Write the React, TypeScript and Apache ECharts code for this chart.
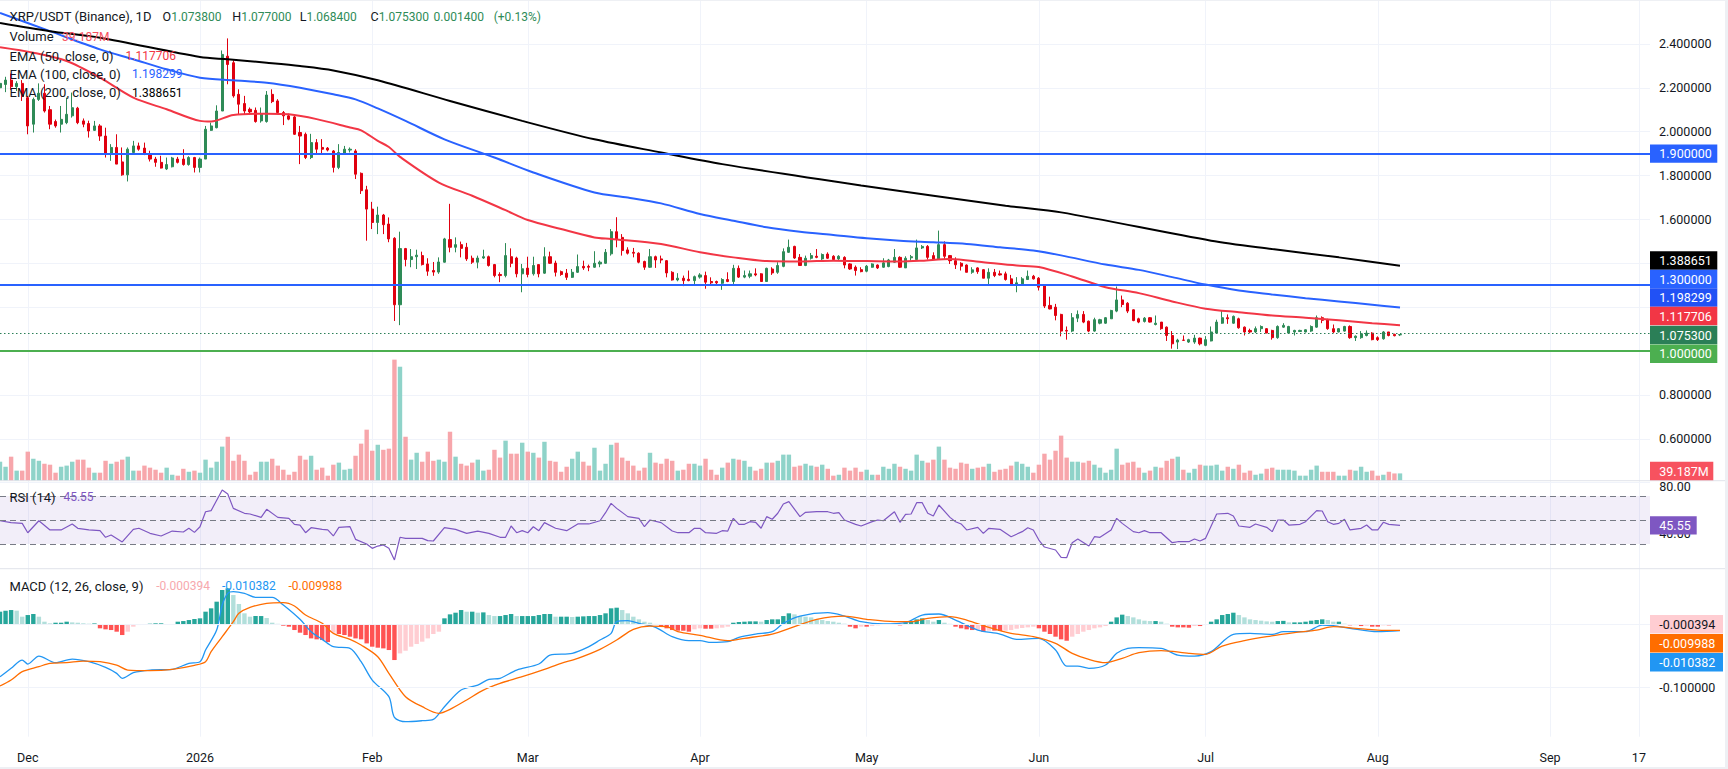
import React, { useEffect, useRef } from "react";
import * as echarts from "echarts";

// ---------- time axis ----------
const START_DATE = "2025-11-26";
const DAY_COUNT = 298; // Nov 26 2025 .. Sep 19 2026
const TICK_DATES = [
  "2025-12-01", "2026-01-01", "2026-02-01", "2026-03-01", "2026-04-01", "2026-05-01",
  "2026-06-01", "2026-07-01", "2026-08-01", "2026-09-01", "2026-09-17",
];
const MONTHS = ["Jan", "Feb", "Mar", "Apr", "May", "Jun", "Jul", "Aug", "Sep", "Oct", "Nov", "Dec"];

// ---------- daily candles (from Nov 26 2025) ----------
const opens = [
  2.200, 2.215, 2.235, 2.205, 2.220, 2.155, 2.034, 2.147, 2.175, 2.100,
  2.046, 2.034, 2.041, 2.072, 2.107, 2.049, 2.037, 2.006, 2.026, 1.980,
  1.897, 1.928, 1.862, 1.803, 1.905, 1.935, 1.925, 1.900, 1.875, 1.860,
  1.830, 1.840, 1.875, 1.875, 1.850, 1.882, 1.837, 1.875, 2.006, 2.018,
  2.094, 2.344, 2.314, 2.170, 2.128, 2.102, 2.097, 2.049, 2.046, 2.170,
  2.140, 2.087, 2.072, 2.067, 1.996, 1.988, 1.882, 1.950, 1.928, 1.925,
  1.912, 1.837, 1.900, 1.916, 1.912, 1.810, 1.735, 1.647, 1.586, 1.620,
  1.579, 1.514, 1.211, 1.467, 1.417, 1.430, 1.435, 1.397, 1.367, 1.360,
  1.405, 1.508, 1.473, 1.485, 1.473, 1.423, 1.405, 1.424, 1.430, 1.394,
  1.349, 1.344, 1.430, 1.424, 1.352, 1.378, 1.352, 1.394, 1.355, 1.430,
  1.401, 1.362, 1.355, 1.336, 1.359, 1.386, 1.386, 1.382, 1.397, 1.400,
  1.443, 1.544, 1.518, 1.461, 1.450, 1.446, 1.408, 1.382, 1.430, 1.420,
  1.412, 1.359, 1.324, 1.332, 1.327, 1.321, 1.337, 1.344, 1.317, 1.317,
  1.309, 1.326, 1.317, 1.377, 1.337, 1.341, 1.352, 1.352, 1.317, 1.374,
  1.359, 1.386, 1.450, 1.477, 1.427, 1.390, 1.423, 1.432, 1.420, 1.442,
  1.432, 1.420, 1.427, 1.397, 1.382, 1.371, 1.364, 1.382, 1.392, 1.382,
  1.385, 1.405, 1.427, 1.379, 1.425, 1.417, 1.470, 1.477, 1.435, 1.420,
  1.485, 1.435, 1.412, 1.400, 1.392, 1.359, 1.379, 1.371, 1.332, 1.359,
  1.352, 1.352, 1.329, 1.300, 1.306, 1.326, 1.341, 1.332, 1.299, 1.208,
  1.200, 1.167, 1.094, 1.091, 1.150, 1.167, 1.136, 1.091, 1.127, 1.127,
  1.147, 1.182, 1.233, 1.218, 1.188, 1.147, 1.135, 1.152, 1.121, 1.132,
  1.109, 1.071, 1.041, 1.050, 1.041, 1.041, 1.059, 1.026, 1.046, 1.082,
  1.127, 1.152, 1.127, 1.147, 1.109, 1.094, 1.087, 1.102, 1.102, 1.094,
  1.061, 1.109, 1.082, 1.087, 1.089, 1.087, 1.091, 1.109, 1.152, 1.143,
  1.102, 1.087, 1.091, 1.112, 1.061, 1.061, 1.071, 1.082, 1.061, 1.056,
  1.087, 1.076, 1.0738,
];
const highs = [
  2.240, 2.250, 2.265, 2.230, 2.235, 2.163, 2.155, 2.220, 2.216, 2.117,
  2.055, 2.117, 2.155, 2.178, 2.113, 2.060, 2.050, 2.049, 2.034, 2.018,
  1.943, 1.988, 1.928, 1.928, 1.958, 1.950, 1.950, 1.913, 1.885, 1.890,
  1.882, 1.885, 1.885, 1.920, 1.888, 1.885, 1.882, 2.026, 2.041, 2.120,
  2.370, 2.425, 2.325, 2.193, 2.163, 2.110, 2.110, 2.110, 2.185, 2.193,
  2.148, 2.094, 2.082, 2.072, 2.026, 1.996, 1.990, 1.966, 1.966, 1.930,
  1.916, 1.943, 1.935, 1.928, 1.920, 1.814, 1.753, 1.680, 1.658, 1.625,
  1.609, 1.519, 1.544, 1.470, 1.465, 1.462, 1.453, 1.423, 1.406, 1.427,
  1.516, 1.671, 1.518, 1.499, 1.493, 1.435, 1.435, 1.462, 1.435, 1.397,
  1.359, 1.492, 1.468, 1.430, 1.397, 1.430, 1.430, 1.394, 1.473, 1.453,
  1.412, 1.367, 1.374, 1.374, 1.440, 1.412, 1.394, 1.455, 1.412, 1.465,
  1.556, 1.610, 1.533, 1.473, 1.470, 1.450, 1.412, 1.465, 1.435, 1.435,
  1.415, 1.364, 1.355, 1.344, 1.367, 1.344, 1.355, 1.362, 1.336, 1.321,
  1.332, 1.359, 1.393, 1.390, 1.367, 1.367, 1.377, 1.355, 1.380, 1.382,
  1.405, 1.468, 1.508, 1.480, 1.442, 1.435, 1.447, 1.465, 1.445, 1.450,
  1.437, 1.437, 1.432, 1.400, 1.390, 1.382, 1.392, 1.400, 1.395, 1.423,
  1.420, 1.465, 1.432, 1.432, 1.438, 1.508, 1.483, 1.483, 1.450, 1.549,
  1.500, 1.438, 1.427, 1.405, 1.395, 1.382, 1.382, 1.374, 1.377, 1.374,
  1.367, 1.362, 1.347, 1.337, 1.337, 1.367, 1.347, 1.337, 1.299, 1.248,
  1.215, 1.170, 1.112, 1.173, 1.185, 1.182, 1.139, 1.152, 1.147, 1.155,
  1.188, 1.294, 1.253, 1.223, 1.190, 1.152, 1.155, 1.155, 1.162, 1.132,
  1.112, 1.091, 1.056, 1.071, 1.056, 1.074, 1.061, 1.068, 1.112, 1.143,
  1.185, 1.167, 1.162, 1.152, 1.112, 1.102, 1.112, 1.117, 1.105, 1.097,
  1.117, 1.127, 1.115, 1.097, 1.097, 1.099, 1.117, 1.162, 1.158, 1.147,
  1.121, 1.105, 1.115, 1.117, 1.071, 1.091, 1.094, 1.086, 1.067, 1.091,
  1.087, 1.079, 1.077,
];
const lows = [
  2.175, 2.180, 2.190, 2.185, 2.140, 1.988, 1.996, 2.140, 2.087, 2.011,
  2.018, 1.996, 2.034, 2.064, 2.034, 2.020, 1.973, 2.003, 1.958, 1.882,
  1.867, 1.852, 1.799, 1.773, 1.897, 1.913, 1.893, 1.864, 1.840, 1.832,
  1.825, 1.837, 1.855, 1.845, 1.845, 1.814, 1.814, 1.875, 2.003, 2.015,
  2.094, 2.216, 2.155, 2.079, 2.079, 2.085, 2.041, 2.041, 2.041, 2.130,
  2.079, 2.030, 2.052, 1.985, 1.852, 1.875, 1.875, 1.897, 1.897, 1.910,
  1.814, 1.829, 1.894, 1.905, 1.784, 1.716, 1.503, 1.556, 1.533, 1.533,
  1.496, 1.137, 1.118, 1.386, 1.382, 1.374, 1.390, 1.343, 1.343, 1.352,
  1.403, 1.450, 1.450, 1.427, 1.411, 1.397, 1.377, 1.420, 1.385, 1.336,
  1.314, 1.336, 1.382, 1.336, 1.268, 1.336, 1.344, 1.336, 1.352, 1.397,
  1.340, 1.343, 1.324, 1.333, 1.356, 1.370, 1.364, 1.379, 1.382, 1.397,
  1.435, 1.473, 1.435, 1.440, 1.427, 1.400, 1.370, 1.379, 1.379, 1.400,
  1.336, 1.321, 1.318, 1.296, 1.318, 1.303, 1.330, 1.284, 1.300, 1.302,
  1.279, 1.314, 1.300, 1.333, 1.332, 1.332, 1.341, 1.317, 1.317, 1.347,
  1.352, 1.382, 1.447, 1.420, 1.390, 1.387, 1.417, 1.423, 1.415, 1.420,
  1.415, 1.415, 1.377, 1.370, 1.344, 1.359, 1.359, 1.380, 1.374, 1.379,
  1.382, 1.402, 1.379, 1.379, 1.412, 1.412, 1.465, 1.417, 1.417, 1.420,
  1.420, 1.397, 1.374, 1.367, 1.359, 1.352, 1.352, 1.332, 1.302, 1.337,
  1.344, 1.321, 1.299, 1.268, 1.303, 1.326, 1.326, 1.276, 1.196, 1.190,
  1.140, 1.067, 1.052, 1.086, 1.132, 1.127, 1.086, 1.088, 1.122, 1.124,
  1.146, 1.177, 1.200, 1.173, 1.136, 1.127, 1.130, 1.130, 1.117, 1.097,
  1.046, 1.011, 1.009, 1.046, 1.037, 1.033, 1.026, 1.022, 1.044, 1.079,
  1.124, 1.124, 1.124, 1.102, 1.071, 1.082, 1.082, 1.087, 1.082, 1.052,
  1.056, 1.106, 1.080, 1.071, 1.087, 1.085, 1.087, 1.106, 1.127, 1.097,
  1.082, 1.085, 1.089, 1.056, 1.046, 1.056, 1.067, 1.049, 1.046, 1.052,
  1.067, 1.067, 1.0684,
];
const closes = [
  2.220, 2.235, 2.205, 2.220, 2.160, 2.026, 2.147, 2.175, 2.094, 2.034,
  2.026, 2.056, 2.079, 2.109, 2.041, 2.034, 2.003, 2.026, 1.980, 1.897,
  1.928, 1.852, 1.803, 1.920, 1.935, 1.920, 1.900, 1.875, 1.860, 1.834,
  1.850, 1.880, 1.860, 1.850, 1.882, 1.837, 1.875, 2.011, 2.026, 2.094,
  2.352, 2.306, 2.163, 2.125, 2.094, 2.090, 2.046, 2.079, 2.167, 2.137,
  2.087, 2.072, 2.057, 1.988, 1.980, 1.882, 1.950, 1.920, 1.920, 1.916,
  1.837, 1.905, 1.920, 1.920, 1.806, 1.731, 1.647, 1.586, 1.620, 1.576,
  1.511, 1.211, 1.467, 1.417, 1.430, 1.437, 1.394, 1.364, 1.360, 1.406,
  1.511, 1.473, 1.485, 1.468, 1.420, 1.405, 1.424, 1.430, 1.390, 1.344,
  1.344, 1.435, 1.400, 1.352, 1.375, 1.349, 1.390, 1.352, 1.430, 1.400,
  1.359, 1.349, 1.336, 1.359, 1.385, 1.379, 1.382, 1.400, 1.405, 1.450,
  1.544, 1.511, 1.458, 1.446, 1.446, 1.405, 1.382, 1.430, 1.415, 1.415,
  1.356, 1.324, 1.332, 1.321, 1.321, 1.339, 1.347, 1.314, 1.311, 1.311,
  1.326, 1.317, 1.377, 1.337, 1.344, 1.352, 1.347, 1.317, 1.377, 1.356,
  1.390, 1.453, 1.473, 1.424, 1.390, 1.423, 1.435, 1.427, 1.440, 1.423,
  1.417, 1.432, 1.392, 1.374, 1.367, 1.362, 1.387, 1.397, 1.379, 1.402,
  1.415, 1.427, 1.382, 1.423, 1.430, 1.470, 1.477, 1.427, 1.420, 1.485,
  1.432, 1.412, 1.393, 1.387, 1.359, 1.370, 1.362, 1.332, 1.359, 1.344,
  1.347, 1.326, 1.302, 1.311, 1.329, 1.341, 1.329, 1.291, 1.205, 1.192,
  1.162, 1.091, 1.091, 1.152, 1.167, 1.132, 1.091, 1.143, 1.143, 1.152,
  1.185, 1.233, 1.212, 1.182, 1.139, 1.132, 1.150, 1.132, 1.127, 1.102,
  1.071, 1.033, 1.050, 1.049, 1.052, 1.059, 1.033, 1.052, 1.087, 1.132,
  1.152, 1.147, 1.158, 1.106, 1.087, 1.087, 1.102, 1.112, 1.082, 1.061,
  1.112, 1.117, 1.112, 1.094, 1.094, 1.097, 1.112, 1.152, 1.140, 1.102,
  1.087, 1.102, 1.112, 1.061, 1.068, 1.079, 1.082, 1.052, 1.052, 1.087,
  1.071, 1.070, 1.0753,
];
// volume, millions
const volumes = [
  102, 75, 129, 54, 54, 156, 118, 107, 91, 86,
  43, 75, 81, 102, 113, 113, 70, 43, 43, 107,
  91, 102, 113, 129, 54, 54, 81, 70, 59, 43,
  70, 32, 27, 64, 48, 54, 43, 113, 70, 102,
  183, 236, 107, 140, 107, 32, 48, 102, 102, 118,
  81, 59, 32, 48, 134, 113, 134, 59, 70, 27,
  86, 97, 59, 64, 134, 199, 274, 161, 193, 166,
  172, 650, 612, 236, 113, 150, 102, 156, 107, 113,
  102, 263, 129, 91, 81, 97, 113, 54, 59, 166,
  124, 215, 145, 145, 204, 156, 150, 124, 209, 107,
  102, 48, 75, 118, 156, 102, 81, 177, 54, 91,
  193, 204, 124, 107, 81, 54, 70, 150, 97, 91,
  118, 107, 54, 59, 91, 91, 81, 118, 59, 32,
  70, 97, 118, 113, 107, 75, 54, 64, 97, 97,
  107, 140, 140, 75, 81, 91, 81, 75, 86, 64,
  27, 32, 70, 54, 70, 48, 59, 32, 32, 75,
  64, 91, 75, 64, 54, 140, 107, 97, 113, 183,
  113, 70, 64, 97, 91, 64, 70, 75, 91, 48,
  59, 64, 81, 102, 91, 75, 43, 86, 145, 113,
  161, 242, 124, 102, 102, 97, 107, 86, 70, 43,
  59, 172, 86, 97, 102, 70, 43, 54, 75, 70,
  107, 118, 129, 59, 43, 64, 86, 81, 81, 86,
  54, 75, 64, 86, 43, 54, 32, 38, 64, 70,
  59, 59, 59, 54, 27, 27, 59, 81, 48, 48,
  48, 27, 27, 59, 54, 75, 48, 54, 27, 32,
  48, 39, 39.187,
];
// MACD histogram, daily
const macdHist = [
  0.0195, 0.0211, 0.0221, 0.0211, 0.0116, 0.0142, 0.0158, 0.0116, 0.0037, 0.0011,
  0.0021, 0.0021, 0.0037, 0.0026, 0.0021, 0.0011, 0.0005, 0.0010, -0.0068, -0.0084,
  -0.0095, -0.0121, -0.0174, -0.0121, -0.0042, -0.0016, -0.0005, 0.0005, 0.0011, 0.0011,
  -0.0005, -0.0011, 0.0037, 0.0047, 0.0063, 0.0079, 0.0090, 0.0195, 0.0248, 0.0353,
  0.0538, 0.0564, 0.0458, 0.0316, 0.0169, 0.0116, 0.0126, 0.0126, 0.0095, 0.0021,
  0.0003, -0.0026, -0.0042, -0.0095, -0.0137, -0.0174, -0.0227, -0.0242, -0.0253, -0.0285,
  -0.0137, -0.0158, -0.0174, -0.0200, -0.0227, -0.0242, -0.0306, -0.0358, -0.0374, -0.0385,
  -0.0411, -0.0569, -0.0464, -0.0422, -0.0358, -0.0316, -0.0279, -0.0227, -0.0158, -0.0121,
  0.0090, 0.0153, 0.0179, 0.0221, 0.0195, 0.0195, 0.0179, 0.0184, 0.0142, 0.0126,
  0.0126, 0.0142, 0.0158, 0.0126, 0.0126, 0.0126, 0.0126, 0.0142, 0.0158, 0.0158,
  0.0116, 0.0116, 0.0116, 0.0111, 0.0116, 0.0121, 0.0126, 0.0126, 0.0142, 0.0169,
  0.0248, 0.0258, 0.0221, 0.0169, 0.0116, 0.0074, 0.0037, 0.0021, 0.0002, -0.0042,
  -0.0068, -0.0095, -0.0105, -0.0106, -0.0121, -0.0084, -0.0068, -0.0074, -0.0074, -0.0068,
  -0.0058, -0.0042, 0.0021, 0.0032, 0.0037, 0.0042, 0.0042, 0.0037, 0.0063, 0.0074,
  0.0074, 0.0126, 0.0169, 0.0153, 0.0126, 0.0116, 0.0105, 0.0074, 0.0063, 0.0047,
  0.0037, 0.0021, 0.0005, -0.0042, -0.0068, -0.0042, -0.0042, -0.0032, -0.0021, -0.0011,
  -0.0005, -0.0003, -0.0021, 0.0021, 0.0032, 0.0074, 0.0090, 0.0063, 0.0037, 0.0063,
  0.0021, 0.0003, -0.0042, -0.0068, -0.0084, -0.0095, -0.0090, -0.0121, -0.0105, -0.0105,
  -0.0110, -0.0105, -0.0095, -0.0074, -0.0063, -0.0053, -0.0042, -0.0068, -0.0121, -0.0158,
  -0.0200, -0.0242, -0.0264, -0.0200, -0.0158, -0.0121, -0.0095, -0.0068, -0.0053, -0.0032,
  0.0037, 0.0105, 0.0148, 0.0126, 0.0105, 0.0074, 0.0053, 0.0047, 0.0047, 0.0037,
  0.0005, -0.0042, -0.0053, -0.0053, -0.0058, -0.0032, -0.0032, -0.0016, 0.0037, 0.0074,
  0.0142, 0.0158, 0.0179, 0.0142, 0.0105, 0.0074, 0.0063, 0.0053, 0.0042, 0.0037,
  0.0047, 0.0050, 0.0026, 0.0026, 0.0026, 0.0037, 0.0053, 0.0063, 0.0074, 0.0063,
  0.0037, 0.0037, 0.0005, -0.0021, -0.0019, -0.0032, -0.0026, -0.0042, -0.0042, -0.0021,
  -0.0021, -0.0016, -0.000394,
];

// ---------- indicator lines: [day index, value] ----------
const ema50Pts = [
  [0, 2.385], [6, 2.36], [12, 2.322], [18, 2.246], [24, 2.155], [30, 2.102], [36, 2.049], [38, 2.046],
  [42, 2.076], [48, 2.082], [52, 2.079], [57, 2.057], [63, 2.019], [65, 2.006], [68, 1.958], [70, 1.93],
  [72, 1.885], [79, 1.768], [85, 1.708], [91, 1.642], [95, 1.597], [101, 1.556], [107, 1.518], [110, 1.511],
  [119, 1.488], [126, 1.45], [132, 1.427], [138, 1.41], [144, 1.408], [150, 1.412], [156, 1.41], [162, 1.408],
  [166, 1.412], [171, 1.42], [177, 1.405], [183, 1.39], [187, 1.383], [193, 1.34], [199, 1.291], [205, 1.264],
  [211, 1.226], [217, 1.193], [223, 1.177], [229, 1.162], [235, 1.152], [241, 1.14], [247, 1.127], [252, 1.117706],
];
const ema100Pts = [
  [0, 2.541], [9, 2.458], [18, 2.375], [24, 2.33], [30, 2.284], [36, 2.246], [42, 2.234], [48, 2.223],
  [54, 2.2], [60, 2.17], [64, 2.147], [68, 2.106], [73, 2.049], [80, 1.965], [89, 1.882], [96, 1.814],
  [107, 1.723], [113, 1.7], [119, 1.673], [126, 1.625], [132, 1.594], [138, 1.564], [144, 1.544], [150, 1.529],
  [156, 1.514], [162, 1.503], [168, 1.496], [174, 1.488], [180, 1.473], [186, 1.458], [191, 1.436], [199, 1.394],
  [205, 1.37], [211, 1.337], [217, 1.303], [223, 1.276], [229, 1.258], [235, 1.241], [241, 1.226], [247, 1.211],
  [252, 1.198299],
];
const ema200Pts = [
  [0, 2.495], [9, 2.458], [18, 2.428], [36, 2.34], [41, 2.33], [48, 2.314], [54, 2.299], [60, 2.279],
  [68, 2.234], [81, 2.14], [94, 2.049], [107, 1.965], [119, 1.905], [130, 1.852], [155, 1.755], [181, 1.662],
  [191, 1.632], [218, 1.503], [229, 1.465], [241, 1.427], [252, 1.388651],
];
const rsiPts = [
  [0, 49.4], [2, 47.8], [4, 47.2], [5, 39.4], [7, 49.4], [9, 41.7], [11, 41.7], [13, 46.7], [14, 43.1], [16, 41.7],
  [18, 41.1], [19, 35.6], [20, 37.5], [22, 31.7], [24, 42.2], [25, 43.1], [27, 38.9], [29, 36.7], [31, 40.8], [33, 40],
  [34, 43.1], [35, 39.7], [36, 44.4], [37, 56.9], [38, 57.8], [40, 75], [41, 71.7], [42, 59.7], [44, 55.6], [45, 55],
  [47, 52.2], [48, 58.9], [50, 52.2], [52, 51.4], [53, 46.4], [54, 45.8], [55, 39.4], [56, 43.6], [58, 42.2], [59, 41.7],
  [60, 36.7], [61, 43.9], [63, 44.4], [64, 33.9], [66, 30], [67, 26.4], [68, 28.3], [69, 29.2], [70, 26.4], [71, 16.7],
  [72, 35.6], [73, 34.7], [76, 34.7], [77, 32.8], [78, 32.5], [80, 43.6], [82, 42.2], [84, 38.9], [86, 40.8], [88, 38.9],
  [90, 35.6], [91, 35.6], [92, 45], [93, 39.4], [94, 41.1], [95, 39.4], [96, 44.4], [97, 41.1], [98, 47.8], [100, 43.1],
  [102, 41.1], [104, 46.7], [106, 46.7], [108, 49.4], [109, 56.1], [110, 63.9], [111, 59.7], [113, 52.8], [115, 51.4], [116, 44.4],
  [117, 50], [119, 47.8], [121, 40.8], [122, 39.4], [124, 39.4], [125, 43.1], [126, 43.1], [127, 39.4], [129, 38.9], [130, 41.1],
  [131, 40.8], [132, 51.4], [133, 46.4], [134, 46.4], [135, 48.6], [136, 48.1], [137, 43.1], [138, 52.8], [139, 50.6], [140, 55.6],
  [141, 63.3], [142, 65.3], [144, 52.8], [145, 56.4], [147, 56.9], [149, 56.9], [150, 55.6], [151, 56.1], [152, 50], [154, 46.4],
  [155, 45], [157, 48.6], [158, 50], [159, 49.4], [161, 56.9], [162, 48.1], [163, 54.7], [164, 55], [165, 64.4], [166, 64.4],
  [167, 55.6], [168, 53.3], [169, 62.5], [171, 52.2], [172, 48.6], [173, 46.7], [174, 41.7], [176, 43.9], [177, 38.9], [178, 43.1],
  [180, 42.2], [182, 36.1], [184, 40.3], [185, 43.6], [186, 41.7], [187, 33.3], [188, 27.5], [190, 25], [191, 18.9], [192, 18.6],
  [193, 31.1], [194, 34.2], [196, 28.3], [197, 36.1], [198, 35.6], [200, 41.7], [201, 51.4], [202, 47.2], [204, 40.3], [205, 39.4],
  [206, 41.1], [207, 39.4], [209, 39.4], [211, 31.1], [212, 31.9], [214, 31.9], [215, 34.2], [216, 32.5], [217, 34.7], [219, 55],
  [221, 55.6], [222, 53.3], [223, 45], [225, 43.9], [226, 46.7], [228, 43.9], [229, 40.3], [230, 50], [231, 50], [232, 45.8],
  [234, 46.4], [235, 48.6], [237, 57.8], [238, 57.5], [239, 48.6], [240, 46.4], [241, 47.2], [242, 50.6], [243, 41.7], [245, 43.1],
  [246, 45.8], [247, 41.7], [248, 41.7], [249, 48.1], [250, 46.4], [252, 45.55],
];
const macdPts = [
  [0, -0.0832], [2, -0.07], [4, -0.0569], [5, -0.0632], [7, -0.0506], [10, -0.0611], [13, -0.0553], [16, -0.0595],
  [19, -0.0685], [21, -0.0779], [22, -0.0858], [24, -0.0769], [27, -0.0727], [31, -0.0716], [34, -0.0621], [36, -0.0595],
  [37, -0.0411], [39, -0.0095], [40, 0.03], [41, 0.0484], [42, 0.0511], [44, 0.0484], [46, 0.0421], [49, 0.0421],
  [51, 0.03], [54, 0.0074], [56, -0.0121], [58, -0.0242], [60, -0.0358], [63, -0.0384], [65, -0.0595], [67, -0.0885],
  [70, -0.1148], [71, -0.1474], [73, -0.1543], [76, -0.1527], [78, -0.1506], [80, -0.1306], [83, -0.1043], [86, -0.0964],
  [88, -0.0874], [90, -0.0858], [93, -0.0727], [97, -0.0632], [99, -0.049], [103, -0.0463], [106, -0.0358], [108, -0.0253],
  [110, -0.0147], [111, 0.0037], [113, 0.0053], [115, 0.0011], [118, -0.0053], [121, -0.02], [124, -0.0263], [126, -0.0263],
  [128, -0.029], [131, -0.0279], [133, -0.0211], [136, -0.0158], [139, -0.0121], [141, 0.0011], [144, 0.0126], [149, 0.0179],
  [152, 0.0126], [155, 0.0037], [159, 0], [163, 0.0021], [166, 0.0142], [169, 0.0158], [172, 0.0063], [176, -0.0095],
  [180, -0.0158], [183, -0.0242], [187, -0.0226], [190, -0.0411], [192, -0.0664], [194, -0.0664], [196, -0.07], [199, -0.0648],
  [201, -0.0463], [203, -0.0384], [205, -0.0374], [209, -0.0384], [212, -0.049], [215, -0.0506], [218, -0.0437], [222, -0.0163],
  [225, -0.0147], [229, -0.0163], [231, -0.0121], [235, -0.0121], [238, -0.0016], [240, -0.0026], [243, -0.0068], [248, -0.0121],
  [252, -0.010382],
];
const signalPts = [
  [0, -0.0979], [2, -0.0885], [4, -0.0753], [7, -0.0674], [9, -0.0621], [12, -0.0611], [15, -0.0585], [18, -0.0595],
  [21, -0.0648], [23, -0.0727], [27, -0.0737], [31, -0.0716], [35, -0.0653], [37, -0.0595], [38, -0.0437], [40, -0.02],
  [42, 0.0037], [43, 0.0169], [45, 0.0263], [48, 0.0326], [51, 0.0337], [53, 0.0284], [55, 0.0142], [58, 0.0011],
  [60, -0.0147], [63, -0.0242], [65, -0.0332], [68, -0.0516], [70, -0.0779], [73, -0.1148], [76, -0.1306], [79, -0.1411],
  [81, -0.1348], [84, -0.12], [87, -0.1043], [90, -0.0937], [94, -0.0832], [98, -0.0716], [101, -0.0621], [104, -0.0542],
  [108, -0.04], [111, -0.0253], [114, -0.0084], [117, -0.0032], [120, -0.0042], [122, -0.0121], [126, -0.0179], [131, -0.0263],
  [134, -0.0226], [139, -0.0158], [143, -0.0042], [147, 0.0074], [152, 0.0126], [156, 0.0074], [161, 0.0037], [164, 0.0037],
  [167, 0.009], [171, 0.0116], [174, 0.0063], [178, -0.0053], [182, -0.0147], [186, -0.02], [190, -0.0305], [193, -0.0463],
  [196, -0.0558], [199, -0.0611], [202, -0.0542], [205, -0.0453], [209, -0.0421], [214, -0.0463], [217, -0.0479], [220, -0.0348],
  [224, -0.0263], [228, -0.02], [233, -0.0137], [237, -0.0095], [240, -0.0042], [244, -0.0068], [248, -0.0095], [252, -0.009988],
];

// ---------- levels & last values ----------
const hLevels = [1.9, 1.3, 1.0];
const lastOHLC = [1.0738, 1.077, 1.0684, 1.0753];
const lastChange = 0.0014;
const lastChangePct = 0.13;
const lastEma = [1.117706, 1.198299, 1.388651];
const lastRsi = 45.55;
const lastMacd = [-0.000394, -0.010382, -0.009988]; // histogram, macd, signal

// ---------- styles ----------
const FONT = "Roboto, 'Liberation Sans', Arial, sans-serif";
const UP = "#2E8B57";
const DOWN = "#E0000F";
const VOL_UP = "#8FD3C9";
const VOL_DOWN = "#F7A6AB";
const EMA_COLORS = ["#F23645", "#2962FF", "#000000"];
const TEXT = "#131722";
const GRID_LINE = "#F0F3FA";
const PLOT_RIGHT = 78;

export default function App() {
  const ref = useRef<HTMLDivElement>(null);

  useEffect(() => {
    const el = ref.current;
    if (!el) return;
    const chart = echarts.init(el, null, { renderer: "svg" });

    const t0 = Date.parse(START_DATE + "T00:00:00Z");
    const dates: string[] = [];
    for (let i = 0; i < DAY_COUNT; i++) dates.push(new Date(t0 + i * 86400000).toISOString().slice(0, 10));
    const tickSet = new Set(TICK_DATES);
    const tickLabel = (d: string) => {
      const [y, m, dd] = d.split("-").map(Number);
      if (dd === 1) return m === 1 ? String(y) : MONTHS[m - 1];
      return String(dd);
    };

    const xAxis = [0, 1, 2, 3].map((g) => ({
      type: "category",
      gridIndex: g,
      data: dates,
      boundaryGap: false,
      axisLine: { show: false },
      axisTick: { show: false },
      axisLabel:
        g === 3
          ? {
              show: true,
              interval: (_i: number, v: string) => tickSet.has(v),
              formatter: (v: string) => tickLabel(v),
              color: TEXT,
              fontSize: 12.5,
              fontFamily: FONT,
              margin: 14,
            }
          : { show: false },
      splitLine: {
        show: g !== 1,
        interval: (_i: number, v: string) => tickSet.has(v),
        lineStyle: { color: GRID_LINE, width: 1 },
      },
    }));

    const grids = [
      { left: 0, right: PLOT_RIGHT, top: -1.3, height: 484 },
      { left: 0, right: PLOT_RIGHT, top: 0, height: 480.7 },
      { left: 0, right: PLOT_RIGHT, top: 480.7, height: 88 },
      { left: 0, right: PLOT_RIGHT, top: 568.7, height: 168 },
    ];

    // scale labels sitting under the stacked value boxes are hidden, as on the reference
    const coveredByBoxes = (v: number) => v > 0.95 && v < 1.45;

    const yAxis = [
      {
        type: "value",
        gridIndex: 0,
        position: "right",
        min: 0.4,
        max: 2.6,
        interval: 0.2,
        axisLine: { show: false },
        axisTick: { show: false },
        axisLabel: {
          formatter: (v: number) => (coveredByBoxes(v) ? "" : v.toFixed(6)),
          color: TEXT,
          fontSize: 12.5,
          fontFamily: FONT,
          margin: 9,
          showMinLabel: false,
          showMaxLabel: false,
        },
        splitLine: { lineStyle: { color: GRID_LINE, width: 1 } },
      },
      { type: "value", gridIndex: 1, min: 0, max: 2581, show: false },
      { type: "value", gridIndex: 2, min: 9.42, max: 82.75, show: false },
      { type: "value", gridIndex: 3, min: -0.178, max: 0.0874, show: false },
    ];

    const candleData = opens.map((o, i) => [o, closes[i], lows[i], highs[i]]);
    const volData = volumes.map((v, i) => ({
      value: v,
      itemStyle: { color: closes[i] >= opens[i] ? VOL_UP : VOL_DOWN },
    }));
    const histData = macdHist.map((h, i) => {
      const prev = i > 0 ? macdHist[i - 1] : h;
      let c: string;
      if (h >= 0) c = h >= prev ? "#26A69A" : "#B2DFDB";
      else c = h <= prev ? "#FF5252" : "#FFCDD2";
      return { value: h, itemStyle: { color: c } };
    });

    const levelColors = ["#2962FF", "#2962FF", "#4CAF50"];

    const option: any = {
      animation: false,
      backgroundColor: "#ffffff",
      textStyle: { fontFamily: FONT },
      grid: grids,
      xAxis,
      yAxis,
      series: [
        {
          type: "bar",
          name: "Volume",
          xAxisIndex: 1,
          yAxisIndex: 1,
          data: volData,
          barWidth: 4.4,
          z: 1,
          silent: true,
        },
        {
          type: "candlestick",
          name: "XRP/USDT",
          xAxisIndex: 0,
          yAxisIndex: 0,
          data: candleData,
          barWidth: 2.6,
          z: 3,
          itemStyle: { color: UP, color0: DOWN, borderColor: UP, borderColor0: DOWN, borderWidth: 1 },
          markLine: {
            silent: true,
            symbol: ["none", "none"],
            label: { show: false },
            data: [
              ...hLevels.map((v, k) => ({ yAxis: v, lineStyle: { color: levelColors[k], width: 2, type: "solid" } })),
              { yAxis: lastOHLC[3], lineStyle: { color: "#2B7F57", width: 1, type: [1.5, 2.5] } },
            ],
          },
        },
        ...[ema50Pts, ema100Pts, ema200Pts].map((pts, k) => ({
          type: "line",
          name: "EMA" + k,
          xAxisIndex: 0,
          yAxisIndex: 0,
          data: pts,
          showSymbol: false,
          smooth: 0.3,
          z: 4,
          lineStyle: { color: EMA_COLORS[k], width: 2 },
          silent: true,
        })),
        {
          type: "line",
          name: "RSI",
          xAxisIndex: 2,
          yAxisIndex: 2,
          data: rsiPts,
          showSymbol: false,
          lineStyle: { color: "#7E57C2", width: 1.2 },
          silent: true,
          markArea: {
            silent: true,
            itemStyle: { color: "rgba(126,87,194,0.1)" },
            data: [[{ yAxis: 70 }, { yAxis: 30 }]],
          },
          markLine: {
            silent: true,
            symbol: ["none", "none"],
            label: { show: false },
            lineStyle: { color: "#787B86", width: 1, type: [6, 4] },
            data: [{ yAxis: 70 }, { yAxis: 50 }, { yAxis: 30 }],
          },
        },
        {
          type: "line",
          name: "grid",
          xAxisIndex: 3,
          yAxisIndex: 3,
          data: [],
          z: 0,
          markLine: {
            silent: true,
            symbol: ["none", "none"],
            label: { show: false },
            lineStyle: { color: GRID_LINE, width: 1, type: "solid" },
            data: [{ yAxis: 0 }, { yAxis: -0.1 }],
          },
        },
        {
          type: "bar",
          name: "Histogram",
          xAxisIndex: 3,
          yAxisIndex: 3,
          data: histData,
          barWidth: 4.4,
          z: 2,
          silent: true,
        },
        {
          type: "line",
          name: "MACD",
          xAxisIndex: 3,
          yAxisIndex: 3,
          data: macdPts,
          showSymbol: false,
          smooth: 0.3,
          z: 3,
          lineStyle: { color: "#2196F3", width: 1.3 },
          silent: true,
        },
        {
          type: "line",
          name: "Signal",
          xAxisIndex: 3,
          yAxisIndex: 3,
          data: signalPts,
          showSymbol: false,
          smooth: 0.3,
          z: 3,
          lineStyle: { color: "#FF6D00", width: 1.3 },
          silent: true,
        },
      ],
    };

    chart.setOption(option);

    const py = (axis: number, v: number) => chart.convertToPixel({ yAxisIndex: axis }, v) as number;
    const AX = 1728 - PLOT_RIGHT;

    const txt = (x: number, y: number, text: string, fill: string, size = 13, z = 100) => ({
      type: "text",
      x,
      y,
      z,
      silent: true,
      style: { text, fill, fontSize: size, fontFamily: FONT, verticalAlign: "middle", align: "left" },
    });
    const box = (yc: number, w: number, text: string, bg: string, fg = "#ffffff") => [
      { type: "rect", z: 100, silent: true, shape: { x: AX, y: yc - 9.2, width: w, height: 18.4 }, style: { fill: bg } },
      txt(AX + 9.3, yc, text, fg, 12.5, 101),
    ];

    const fmt6 = (v: number) => v.toFixed(6);
    const legendUpColor = lastOHLC[3] >= lastOHLC[0] ? UP : DOWN;
    const VAL = 12; // legend value font size

    // stacked price-scale labels (TradingView pushes overlapping ones apart)
    const mainStackY = [260.5, 279, 297.5, 316, 335, 353.8];
    const macdStackY = [624.3, 643.3, 662.3];

    const graphic: any[] = [
      // frame
      { type: "rect", z: 120, silent: true, shape: { x: 1725, y: 0, width: 3, height: 769 }, style: { fill: "#EEF0F4" } },
      { type: "rect", z: 120, silent: true, shape: { x: 0, y: 767, width: 1728, height: 2 }, style: { fill: "#EEF0F4" } },
      { type: "rect", z: 120, silent: true, shape: { x: 0, y: 0, width: 1728, height: 1 }, style: { fill: "#EEF0F4" } },

      // RSI scale labels (top one is partly hidden by the pane above)
      txt(AX + 9.3, py(2, 80) + 2.5, (80).toFixed(2), TEXT, 12.5, 90),
      txt(AX + 9.3, py(2, 40) + 1, (40).toFixed(2), TEXT, 12.5, 90),
      { type: "rect", z: 95, silent: true, shape: { x: AX, y: 470, width: 75, height: 10.7 }, style: { fill: "#ffffff" } },
      // MACD scale label
      txt(AX + 9.3, py(3, -0.1), fmt6(-0.1), TEXT, 12.5, 90),

      // pane separators
      { type: "line", z: 99, silent: true, shape: { x1: 0, y1: 480.7, x2: 1725, y2: 480.7 }, style: { stroke: "#E0E3EB", lineWidth: 1 } },
      { type: "line", z: 99, silent: true, shape: { x1: 0, y1: 568.7, x2: 1725, y2: 568.7 }, style: { stroke: "#E0E3EB", lineWidth: 1 } },

      // legends, main pane
      txt(9.5, 16.7, "XRP/USDT (Binance), 1D", TEXT),
      ...["O", "H", "L", "C"].map((k, j) => ({
        type: "text",
        x: [162.6, 232.3, 299.7, 370.5][j],
        y: 16.7,
        z: 100,
        silent: true,
        style: {
          text: `{a|${k}}{b|${fmt6(lastOHLC[j])}}`,
          fontSize: VAL,
          fontFamily: FONT,
          verticalAlign: "middle",
          rich: {
            a: { fill: TEXT, fontSize: 12.5, fontFamily: FONT },
            b: { fill: legendUpColor, fontSize: VAL, fontFamily: FONT },
          },
        },
      })),
      txt(433.6, 16.7, fmt6(lastChange), legendUpColor, VAL),
      txt(493.7, 16.7, `(+${lastChangePct.toFixed(2)}%)`, legendUpColor, VAL),
      txt(9.5, 36.7, "Volume", TEXT),
      txt(62, 36.7, volumes[volumes.length - 1].toFixed(3) + "M", "#F7525F", VAL),
      txt(9.5, 56, "EMA (50, close, 0)", TEXT),
      txt(125.5, 56, fmt6(lastEma[0]), EMA_COLORS[0], VAL),
      txt(9.5, 74.3, "EMA (100, close, 0)", TEXT),
      txt(132, 74.3, fmt6(lastEma[1]), EMA_COLORS[1], VAL),
      txt(9.5, 92.7, "EMA (200, close, 0)", TEXT),
      txt(132, 92.7, fmt6(lastEma[2]), EMA_COLORS[2], VAL),

      // legends, RSI and MACD panes
      txt(9.5, 497.3, "RSI (14)", TEXT),
      txt(63.4, 497.3, lastRsi.toFixed(2), "#7E57C2", VAL),
      txt(9.5, 586, "MACD (12, 26, close, 9)", TEXT),
      txt(156.3, 586, fmt6(lastMacd[0]), "#F7A8AD", VAL),
      txt(222, 586, fmt6(lastMacd[1]), "#2196F3", VAL),
      txt(288.5, 586, fmt6(lastMacd[2]), "#FF6D00", VAL),

      // price scale boxes
      ...box(py(0, hLevels[0]), 67.3, fmt6(hLevels[0]), "#2962FF"),
      ...box(mainStackY[0], 67.3, fmt6(lastEma[2]), "#000000"),
      ...box(mainStackY[1], 67.3, fmt6(hLevels[1]), "#2962FF"),
      ...box(mainStackY[2], 67.3, fmt6(lastEma[1]), "#2151F5"),
      ...box(mainStackY[3], 67.3, fmt6(lastEma[0]), "#F23645"),
      ...box(mainStackY[4], 67.3, fmt6(lastOHLC[3]), "#2B7F57"),
      ...box(mainStackY[5], 67.3, fmt6(hLevels[2]), "#4CAF50"),
      ...box(471, 63.3, volumes[volumes.length - 1].toFixed(3) + "M", "#F7525F"),
      ...box(py(2, lastRsi), 46.7, lastRsi.toFixed(2), "#7E57C2"),
      ...box(macdStackY[0], 73, fmt6(lastMacd[0]), "#FFCDD2", TEXT),
      ...box(macdStackY[1], 73, fmt6(lastMacd[2]), "#FF6D00"),
      ...box(macdStackY[2], 73, fmt6(lastMacd[1]), "#2196F3"),
    ];

    chart.setOption({ graphic });

    return () => chart.dispose();
  }, []);

  return (
    <div
      ref={ref}
      style={{ position: "fixed", left: 0, top: 0, width: 1728, height: 769, background: "#ffffff" }}
    />
  );
}
